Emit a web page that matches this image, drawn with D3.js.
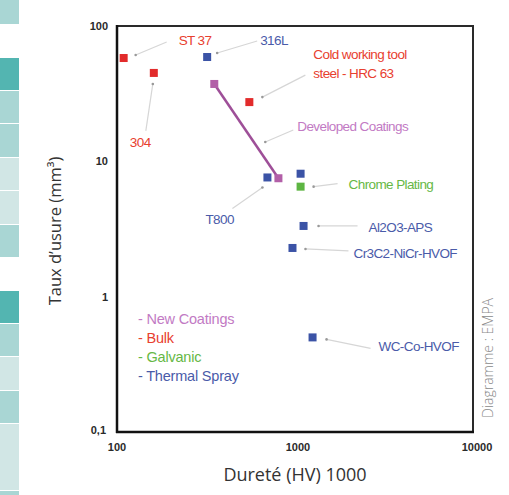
<!DOCTYPE html>
<html>
<head>
<meta charset="utf-8">
<script src="https://cdn.jsdelivr.net/npm/d3@7"></script>
<style>
  body { margin: 0; background: #fff; }
  svg { display: block; }
</style>
</head>
<body>
<div id="vis"></div>
<script>
// data
const materials = ["ST 37", "304", "316L", "Cold working tool steel - HRC 63",
  "Developed Coatings A", "Developed Coatings B", "T800", "Chrome (thermal)",
  "Chrome Plating", "Al2O3-APS", "Cr3C2-NiCr-HVOF", "WC-Co-HVOF"];
const hardness = [109, 161, 321, 554, 352, 807, 700, 1075, 1075, 1117, 968, 1255];
const wear = [58, 45, 59, 27.4, 37.3, 7.5, 7.6, 8.1, 6.5, 3.33, 2.29, 0.50];
const group = ["Bulk", "Bulk", "Thermal Spray", "Bulk", "New Coatings", "New Coatings",
  "Thermal Spray", "Thermal Spray", "Galvanic", "Thermal Spray", "Thermal Spray", "Thermal Spray"];

const groups = ["New Coatings", "Bulk", "Galvanic", "Thermal Spray"];
const xTicks = [100, 1000, 10000];
const yTicks = [100, 10, 1, 0.1];
const yTickLabels = ["100", "10", "1", "0,1"];

const data = materials.map((m, i) => ({ name: m, x: hardness[i], y: wear[i], g: group[i] }));

const colors = { "New Coatings": "#b25fa8", "Bulk": "#e22b2b", "Galvanic": "#5db542", "Thermal Spray": "#3b53a6" };
const labelColors = { "New Coatings": "#c27ac4", "Bulk": "#e8402f", "Galvanic": "#66b845", "Thermal Spray": "#4a5ba9" };

// annotation layout: label lines, dot offset, line end, label baseline (px from the point)
const notes = [
  { i: 0, lines: ["ST 37"], dot: [12, -3], end: [43, -16], lab: [55, -13] },
  { i: 1, lines: ["304"], dot: [-1, 11], end: [-8, 58], lab: [-24, 74] },
  { i: 2, lines: ["316L"], dot: [10, -4], end: [50, -16], lab: [53, -12] },
  { i: 3, lines: ["Cold working tool", "steel - HRC 63"], dot: [13, -5], end: [56, -27], lab: [64, -43] },
  { i: 4, lines: ["Developed Coatings"], dot: [51, 58], end: [79, 46], lab: [83, 47] },
  { i: 6, lines: ["T800"], dot: [-5, 10], end: [-35, 31], lab: [-62, 47] },
  { i: 8, lines: ["Chrome Plating"], dot: [13, 0], end: [37, -3], lab: [48, 2] },
  { i: 9, lines: ["Al2O3-APS"], dot: [15, 0], end: [54, 0], lab: [65, 6] },
  { i: 10, lines: ["Cr3C2-NiCr-HVOF"], dot: [13, 1], end: [56, 3], lab: [61, 10] },
  { i: 11, lines: ["WC-Co-HVOF"], dot: [14, 2], end: [58, 11], lab: [66, 14] }
];

const W = 509, H = 495;
const svg = d3.select("#vis").append("svg").attr("width", W).attr("height", H);

// teal strip on the left
const tiles = [[0, 24, "#a9d6d4"], [58, 90, "#53b5b1"], [91, 123, "#a9d6d4"], [124, 157, "#a9d6d4"],
  [158, 190, "#d1e6e5"], [191, 224, "#d1e6e5"], [225, 257, "#a9d6d4"], [291, 323, "#53b5b1"],
  [324, 356, "#a9d6d4"], [357, 390, "#d1e6e5"], [391, 423, "#a9d6d4"], [424, 490, "#d1e6e5"], [491, 495, "#a9d6d4"]];
svg.selectAll(".tile").data(tiles).enter().append("rect")
  .attr("x", 0).attr("y", d => d[0]).attr("width", 19).attr("height", d => d[1] - d[0])
  .attr("fill", d => d[2]);

const x = d3.scaleLog().domain([100, 10000]).range([117, 473]);
const y = d3.scaleLog().domain([0.1, 100]).range([432, 26]);

// frame
svg.append("rect")
  .attr("x", x.range()[0]).attr("y", y.range()[1])
  .attr("width", x.range()[1] - x.range()[0]).attr("height", y.range()[0] - y.range()[1])
  .attr("fill", "none").attr("stroke", "#2a2a2a").attr("stroke-width", 2);
svg.append("line").attr("x1", 117).attr("x2", 117).attr("y1", 25).attr("y2", 433)
  .attr("stroke", "#111").attr("stroke-width", 2.5);
svg.append("line").attr("x1", 116).attr("x2", 474).attr("y1", 432).attr("y2", 432)
  .attr("stroke", "#111").attr("stroke-width", 2.5);

// tick labels
const tickFont = "bold 11px 'Liberation Sans', Arial, sans-serif";
svg.selectAll(".ylab").data(yTicks).enter().append("text")
  .attr("x", (d, i) => i === 3 ? 106 : 108).attr("y", (d, i) => y(d) + (i === 3 ? 2 : 4))
  .attr("text-anchor", "end").style("font", tickFont).attr("fill", "#2a2a2a")
  .text((d, i) => yTickLabels[i]);
svg.selectAll(".xlab").data(xTicks).enter().append("text")
  .attr("x", (d, i) => x(d) + (i === 0 ? 0 : i === 1 ? 3 : 4)).attr("y", 451)
  .attr("text-anchor", "middle").style("font", tickFont).attr("fill", "#2a2a2a")
  .text(d => d);

// axis titles
svg.append("text")
  .attr("transform", "translate(61,231) rotate(-90)")
  .attr("text-anchor", "middle")
  .style("font", "16.5px 'Open Sans', sans-serif").attr("fill", "#333")
  .text("Taux d’usure (mm³)");
svg.append("text")
  .attr("x", 295).attr("y", 481).attr("text-anchor", "middle")
  .style("font", "18px 'Open Sans', sans-serif").attr("fill", "#333")
  .text("Dureté (HV) 1000");
svg.append("text")
  .attr("transform", "translate(493,358) rotate(-90)")
  .attr("text-anchor", "middle")
  .style("font", "300 14px 'Open Sans', sans-serif").attr("fill", "#8a8a8a")
  .text("Diagramme : EMPA");

// leader lines and dots
const lblFont = "13.5px 'Liberation Sans', Arial, sans-serif";
notes.forEach(n => {
  const d = data[n.i];
  const px = x(d.x), py = y(d.y);
  svg.append("line")
    .attr("x1", px + n.dot[0]).attr("y1", py + n.dot[1])
    .attr("x2", px + n.end[0]).attr("y2", py + n.end[1])
    .attr("stroke", "#d6d6d6").attr("stroke-width", 1.2);
  svg.append("circle")
    .attr("cx", px + n.dot[0]).attr("cy", py + n.dot[1]).attr("r", 1.3)
    .attr("fill", "#999");
  const t = svg.append("text")
    .attr("x", px + n.lab[0]).attr("y", py + n.lab[1])
    .style("font", lblFont).style("letter-spacing", "-0.6px")
    .attr("fill", labelColors[d.g]);
  n.lines.forEach((l, k) => {
    t.append("tspan").attr("x", px + n.lab[0]).attr("dy", k === 0 ? 0 : 19).text(l);
  });
});

// developed coatings connecting line
const dev = data.filter(d => d.g === "New Coatings");
svg.append("path")
  .datum(dev)
  .attr("d", d3.line().x(d => x(d.x)).y(d => y(d.y)))
  .attr("stroke", "#9e4f98").attr("stroke-width", 2.5).attr("fill", "none");

// squares
const s = 8;
svg.selectAll(".pt").data(data).enter().append("rect")
  .attr("x", d => x(d.x) - s / 2).attr("y", d => y(d.y) - s / 2)
  .attr("width", s).attr("height", s)
  .attr("fill", d => colors[d.g]);

// legend
svg.selectAll(".leg").data(groups).enter().append("text")
  .attr("x", 138).attr("y", (d, i) => 324 + i * 19)
  .style("font", "14.5px 'Liberation Sans', Arial, sans-serif").style("letter-spacing", "-0.2px")
  .attr("fill", d => labelColors[d])
  .text(d => "- " + d);
</script>
</body>
</html>
